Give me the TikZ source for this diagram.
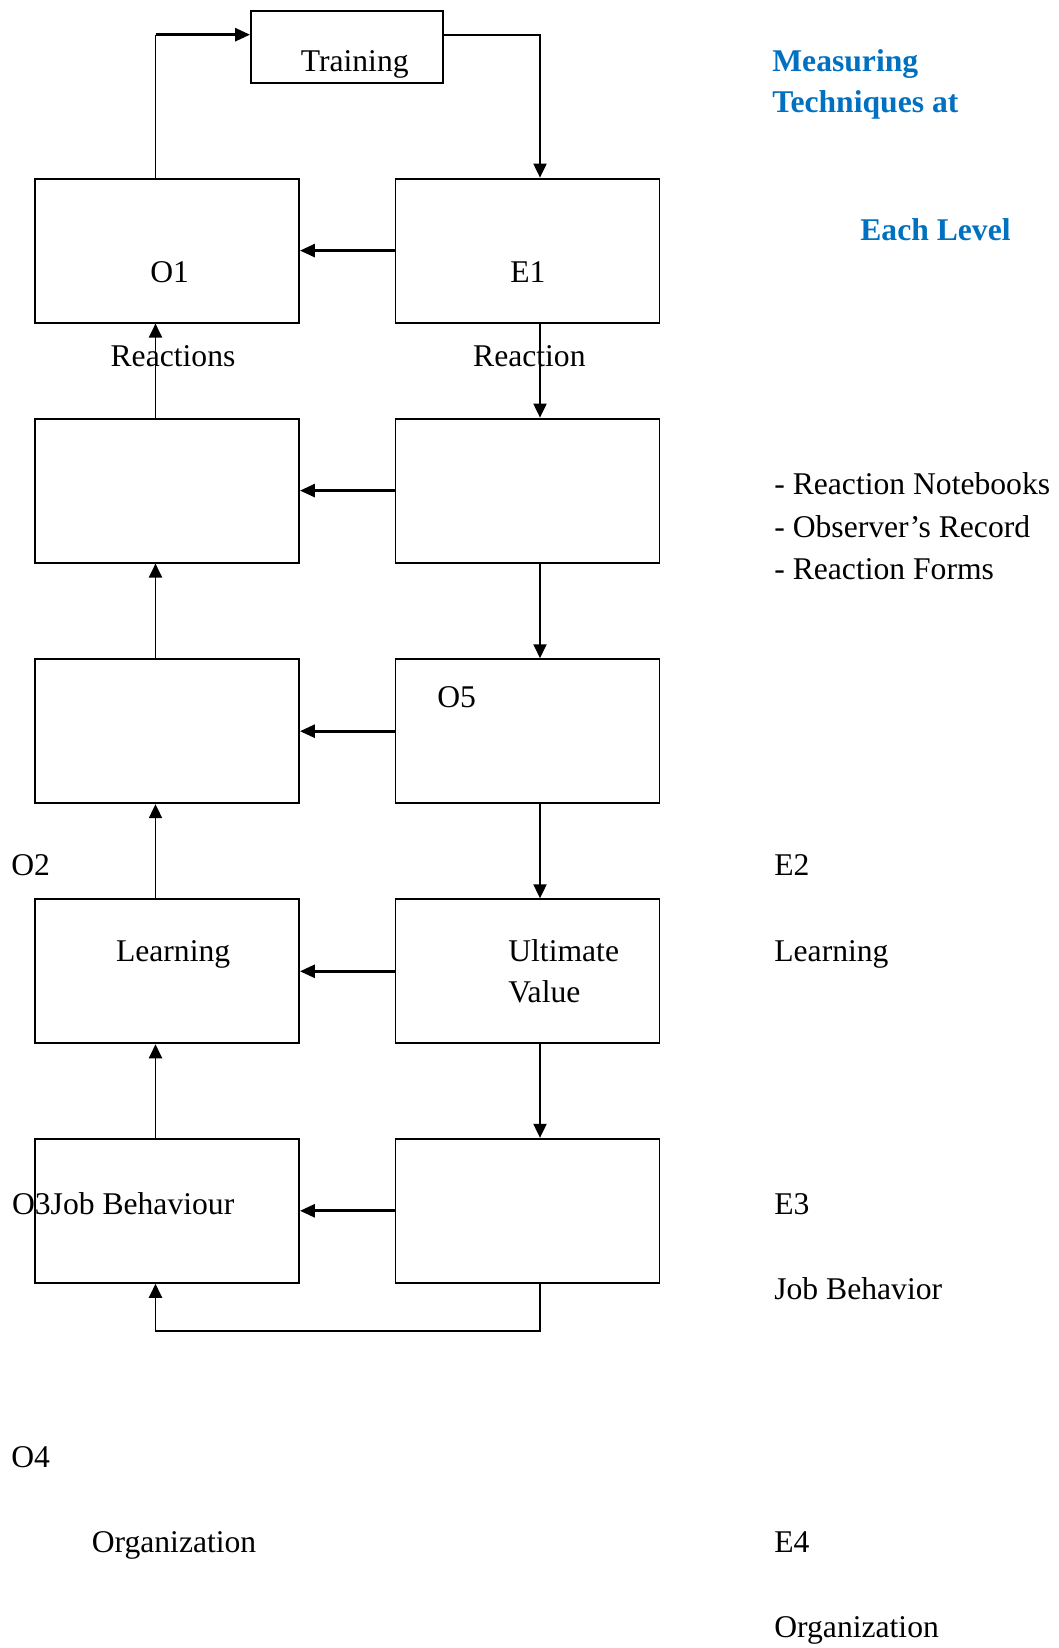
\documentclass[tikz,border=0pt]{standalone}
\usepackage{fontspec}
\setmainfont{Liberation Serif}
\usepackage{xcolor}
\definecolor{headblue}{HTML}{0070C0}
\usetikzlibrary{arrows.meta,positioning,calc}

\begin{document}
\begin{tikzpicture}[x=0.02cm,y=-0.02cm,
		box/.style={draw,line width=1.1pt,minimum width=5.28cm,minimum height=2.88cm,inner sep=0pt},
		lbl/.style={anchor=base west,inner sep=0pt,font=\fontsize{18}{24}\selectfont},
		head/.style={lbl,font=\fontsize{18}{24}\selectfont\bfseries,text=headblue},
		up/.style={-{Triangle[length=0.28cm,width=0.26cm]},line width=1.1pt},
		side/.style={-{Triangle[length=0.3cm,width=0.26cm]},line width=1.6pt}]
		\useasboundingbox (0,0) rectangle (1058,1648);
		% columns of boxes
		\node[box,minimum width=3.84cm,minimum height=1.44cm] (tr) at (347,46.7) {};
		\node[box] (l1) at (167,250.6) {};
		\node[box] (r1) at (527.5,250.6) {};
		\node[box] (l2) at (167,490.6) {};
		\node[box] (r2) at (527.5,490.6) {};
		\node[box] (l3) at (167,731.2) {};
		\node[box] (r3) at (527.5,731.2) {};
		\node[box] (l4) at (167,971.3) {};
		\node[box] (r4) at (527.5,971.3) {};
		\node[box] (l5) at (167,1210.8) {};
		\node[box] (r5) at (527.5,1210.8) {};
		\coordinate (lx) at (155.5,0);
		\coordinate (rx) at (540,0);
		\coordinate (ty) at (0,34.7);
		\coordinate (by) at (0,1331);
		% loop through training
		\draw[line width=1.1pt] (l1.north -| lx) -- (lx |- ty);
		\draw[side] (lx |- ty) -- (tr.west |- ty);
		\draw[up] (tr.east |- ty) -| (r1.north -| rx);
		\draw[up] (r5.south -| rx) |- (lx |- by) -- (l5.south -| lx);
		% up the left, down the right
		\draw[up] (l2.north -| lx) -- (l1.south -| lx);
		\draw[up] (l3.north -| lx) -- (l2.south -| lx);
		\draw[up] (l4.north -| lx) -- (l3.south -| lx);
		\draw[up] (l5.north -| lx) -- (l4.south -| lx);
		\draw[up] (r1.south -| rx) -- (r2.north -| rx);
		\draw[up] (r2.south -| rx) -- (r3.north -| rx);
		\draw[up] (r3.south -| rx) -- (r4.north -| rx);
		\draw[up] (r4.south -| rx) -- (r5.north -| rx);
		% across
		\draw[side] (r1.west) -- (l1.east);
		\draw[side] (r2.west) -- (l2.east);
		\draw[side] (r3.west) -- (l3.east);
		\draw[side] (r4.west) -- (l4.east);
		\draw[side] (r5.west) -- (l5.east);
		% labels
		\node[lbl] (ttr) at (300.5,72) {Training};
		\node[lbl] (to1) at (150,283) {O1};
		\node[lbl] (te1) at (510,283) {E1};
		\node[lbl] (treas) at (110.3,367) {Reactions};
		\node[lbl] (treac) at (472.8,367) {Reaction};
		\node[lbl] (to5) at (437,707) {O5};
		\node[lbl] (to2) at (11,875) {O2};
		\node[lbl] (te2) at (774,875) {E2};
		\node[lbl] (tlearn) at (115.7,961) {Learning};
		\node[lbl] (tult) at (508,961) {Ultimate};
		\node[lbl] (tval) at (508,1002) {Value};
		\node[lbl] (tlearn2) at (774,961) {Learning};
		\node[lbl] (tjob) at (11.7,1214) {O3Job Behaviour};
		\node[lbl] (te3) at (774,1214) {E3};
		\node[lbl] (tjob2) at (774,1299) {Job Behavior};
		\node[lbl] (to4) at (11,1467) {O4};
		\node[lbl] (torg) at (91.4,1552) {Organization};
		\node[lbl] (te4) at (774,1552) {E4};
		\node[lbl] (torg2) at (774,1637) {Organization};
		% measuring techniques
		\node[head] (hm) at (772,72) {Measuring};
		\node[head] (ht) at (772,113) {Techniques at};
		\node[head] (he) at (860,241) {Each Level};
		\node[lbl] (m1) at (774,495) {- Reaction Notebooks};
		\node[lbl] (m2) at (774,537) {- Observer’s Record};
		\node[lbl] (m3) at (774,579) {- Reaction Forms};
\end{tikzpicture}
\end{document}
